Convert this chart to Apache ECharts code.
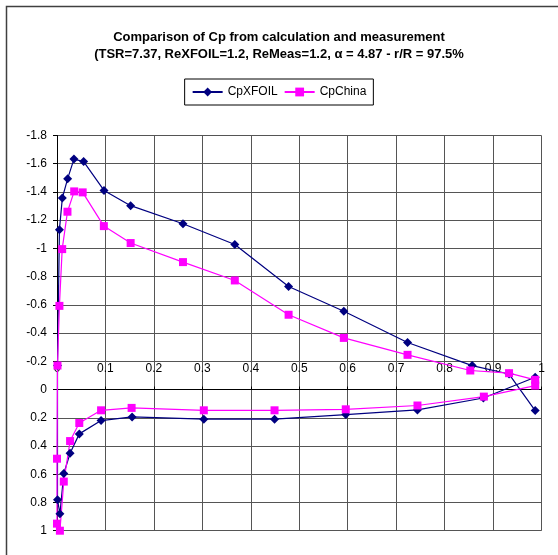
<!DOCTYPE html>
<html>
<head>
<meta charset="utf-8">
<script src="https://cdn.jsdelivr.net/npm/echarts@6/dist/echarts.min.js"></script>
<style>
html,body{margin:0;padding:0;background:#fff;}
#chart{width:558px;height:555px;}
</style>
</head>
<body>
<div id="chart"></div>
<script>
// CpXFOIL: upper surface from trailing edge to leading edge, then lower surface
var xfoilX=[0.987,0.933,0.857,0.7235,0.592,0.478,0.367,0.26,0.152,0.097,0.055,0.035,0.022,0.011,0.005,0.001,
            0.001,0.006,0.014,0.027,0.046,0.091,0.155,0.303,0.449,0.596,0.744,0.88,0.987];
var xfoilCp=[0.149,-0.11,-0.17,-0.333,-0.555,-0.73,-1.028,-1.175,-1.303,-1.411,-1.615,-1.633,-1.494,-1.357,-1.133,-0.17,
             0.78,0.88,0.595,0.452,0.314,0.22,0.194,0.21,0.21,0.177,0.144,0.06,-0.087];
// CpChina: measured
var chinaX=[0.987,0.933,0.853,0.7235,0.592,0.478,0.367,0.26,0.152,0.0967,0.053,0.0355,0.0216,0.0107,0.005,0.001,
            0.0,0.0,0.006,0.014,0.027,0.046,0.091,0.154,0.303,0.449,0.596,0.744,0.881,0.987];
var chinaCp=[-0.069,-0.116,-0.135,-0.246,-0.366,-0.53,-0.773,-0.903,-1.038,-1.158,-1.397,-1.404,-1.26,-0.995,-0.593,-0.17,
             0.49,0.95,1.0,0.652,0.365,0.237,0.147,0.13,0.147,0.147,0.14,0.113,0.05,-0.028];
var seriesNames=['CpXFOIL','CpChina'];
var yMin=-1.8,yMax=1;

function pairs(xs,ys){
    var out=[];
    for(var i=0;i<xs.length;i++){
        out.push([xs[i],ys[i]]);
    }
    return out;
}
function fmt(v){
    return String(Math.round(v*10)/10);
}

var font='"Liberation Sans", Arial, sans-serif';
var gridTop=135.5,gridBottom=24.3,chartH=555;
// x axis crosses the (inverted) y axis at 0
var zeroOffset=-(chartH-gridTop-gridBottom)*(0-yMin)/(yMax-yMin);

var chart=echarts.init(document.getElementById('chart'));
var option={
    animation:false,
    textStyle:{fontFamily:font},
    title:{
        text:'Comparison of Cp from calculation and measurement\n(TSR=7.37, ReXFOIL=1.2, ReMeas=1.2, α = 4.87 - r/R = 97.5%',
        left:'center',
        top:24,
        textStyle:{
            fontSize:13,
            fontWeight:'bold',
            color:'#000',
            fontFamily:font,
            lineHeight:17
        }
    },
    legend:{
        data:seriesNames,
        left:'center',
        top:79,
        padding:[7,7],
        itemWidth:30,
        itemHeight:11,
        itemGap:6,
        borderColor:'#000',
        borderWidth:1,
        textStyle:{fontSize:12,color:'#000',fontFamily:font}
    },
    graphic:[{
        type:'rect',
        shape:{x:6.5,y:6.5,width:700,height:700},
        style:{fill:null,stroke:'#404040',lineWidth:1.5},
        silent:true
    }],
    grid:{
        left:57,
        top:gridTop,
        right:16.5,
        bottom:gridBottom,
        containLabel:false
    },
    xAxis:{
        type:'value',
        min:0,
        max:1,
        interval:0.1,
        position:'top',
        offset:zeroOffset,
        axisLine:{onZero:false,lineStyle:{color:'#000',width:1}},
        axisTick:{show:true,length:3,lineStyle:{color:'#000'}},
        axisLabel:{
            formatter:fmt,
            margin:15,
            fontSize:12,
            color:'#000',
            fontFamily:font
        },
        splitLine:{show:true,lineStyle:{color:'#555',width:1}}
    },
    yAxis:{
        type:'value',
        inverse:true,
        min:yMin,
        max:yMax,
        interval:0.2,
        axisLine:{show:true,onZero:false,lineStyle:{color:'#000',width:1}},
        axisTick:{show:true,length:4,lineStyle:{color:'#000'}},
        axisLabel:{
            formatter:fmt,
            margin:10,
            fontSize:12,
            color:'#000',
            fontFamily:font
        },
        splitLine:{show:true,lineStyle:{color:'#555',width:1}}
    },
    series:[
        {
            name:seriesNames[0],
            type:'line',
            data:pairs(xfoilX,xfoilCp),
            symbol:'diamond',
            symbolSize:9,
            color:'#000080',
            lineStyle:{width:1.2,color:'#000080'},
            itemStyle:{color:'#000080'}
        },
        {
            name:seriesNames[1],
            type:'line',
            data:pairs(chinaX,chinaCp),
            symbol:'rect',
            symbolSize:8,
            color:'#FF00FF',
            lineStyle:{width:1.2,color:'#FF00FF'},
            itemStyle:{color:'#FF00FF'}
        }
    ]
};
chart.setOption(option);
</script>
</body>
</html>
